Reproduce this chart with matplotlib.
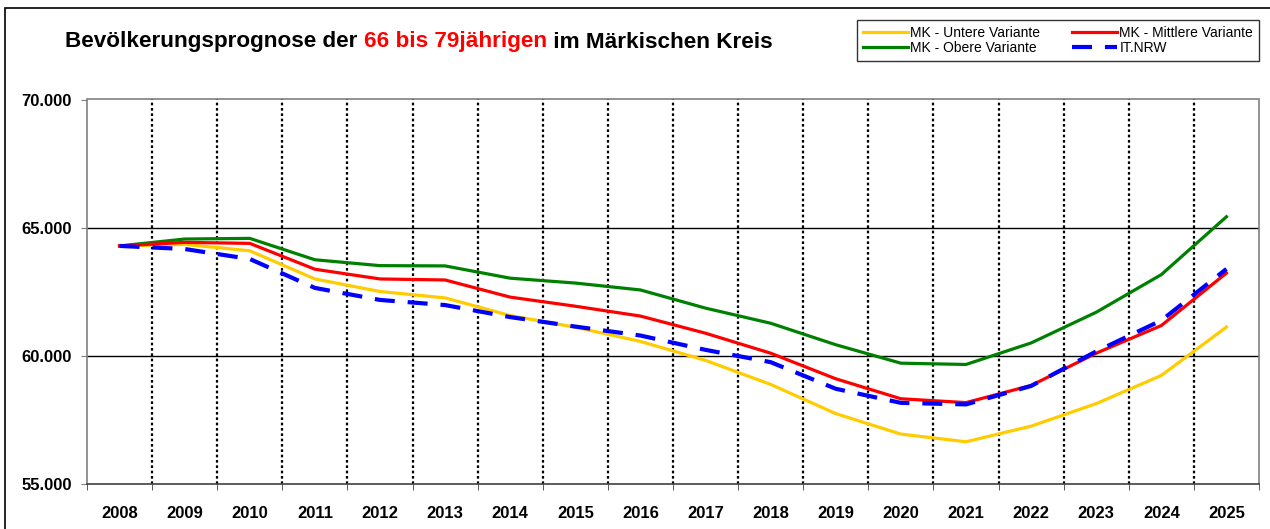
import matplotlib
matplotlib.use("Agg")
import matplotlib.pyplot as plt
from matplotlib.patches import Rectangle
from matplotlib.ticker import FuncFormatter, FixedLocator

plt.rcParams["font.family"] = ["Liberation Sans", "DejaVu Sans"]

years = [str(y) for y in range(2008, 2026)]
untere = [64280, 64340, 64090, 62990, 62500, 62250, 61560, 61105, 60550, 59810,
          58870, 57730, 56930, 56630, 57240, 58120, 59220, 61110]
mittlere = [64280, 64420, 64380, 63370, 62990, 62950, 62280, 61925, 61540, 60870,
            60090, 59090, 58310, 58160, 58830, 60090, 61170, 63220]
obere = [64280, 64550, 64575, 63740, 63510, 63500, 63020, 62830, 62560, 61850,
         61260, 60420, 59700, 59650, 60490, 61690, 63160, 65420]
itnrw = [64280, 64160, 63770, 62640, 62170, 61970, 61500, 61130, 60780, 60220,
         59740, 58700, 58150, 58090, 58810, 60160, 61370, 63380]
y_ticks = [55000, 60000, 65000, 70000]

W, H = 1270, 529
fig = plt.figure(figsize=(W / 100, H / 100), dpi=100)
ax = fig.add_axes([87 / W, 1 - 483.5 / H, (1259 - 87) / W, (483.5 - 99.5) / H])

x = list(range(len(years)))
ax.plot(x, untere, color="#FFCC00", lw=2.3, label="MK - Untere Variante", zorder=3)
ax.plot(x, obere, color="#008000", lw=2.3, label="MK - Obere Variante", zorder=3)
ax.plot(x, mittlere, color="#FF0000", lw=2.3, label="MK - Mittlere Variante", zorder=4)
ax.plot(x, itnrw, color="#0000FF", lw=3, ls=(0, (4.8, 3.1)), label="IT.NRW", zorder=5)

ax.set_xlim(-0.5, len(years) - 0.5)
ax.set_ylim(55000, 70000)

# grid: horizontal solid, vertical dotted between categories
for v in y_ticks[1:-1]:
    ax.axhline(v, color="black", lw=1, zorder=1)
for i in range(len(years) - 1):
    ax.axvline(i + 0.5, color="black", lw=1.6, ls=(0, (1.2, 1.2)), zorder=1)

ax.set_xticks(x)
ax.set_xticklabels(years, fontsize=12, fontweight="bold")
ax.xaxis.set_minor_locator(FixedLocator([i - 0.5 for i in range(len(years) + 1)]))
ax.tick_params(axis="x", which="major", length=0, pad=16)
ax.tick_params(axis="x", which="minor", length=4, direction="out", color="#404040")

ax.set_yticks(y_ticks)
ax.yaxis.set_major_formatter(FuncFormatter(lambda v, p: f"{v:,.0f}".replace(",", ".")))
ax.tick_params(axis="y", length=4, color="#808080", pad=7)
for lab in ax.get_yticklabels():
    lab.set_fontsize(12)
    lab.set_fontweight("bold")

ax.spines["left"].set_color("#808080")
ax.spines["top"].set_color("#808080")
ax.spines["right"].set_color("#808080")
ax.spines["right"].set_linestyle((0, (2, 1)))
ax.spines["bottom"].set_color("#404040")
for s in ax.spines.values():
    s.set_linewidth(1.2)

# outer chart border
fig.patches.append(Rectangle((5 / W, -0.01), 1.1, 1 - 8 / H + 0.01, transform=fig.transFigure,
                             fill=False, edgecolor="black", lw=1.2, clip_on=False))

# title with coloured middle part
renderer = fig.canvas.get_renderer()
parts = [("Bevölkerungsprognose der ", "black"), ("66 bis 79jährigen", "#FF0000"),
         (" im Märkischen Kreis", "black")]
tx = 65
for txt, col in parts:
    t = fig.text(tx / W, 1 - 42 / H, txt, color=col, fontsize=16.2, fontweight="bold",
                 va="center", ha="left")
    bb = t.get_window_extent(renderer=renderer)
    tx += bb.width

leg = fig.legend(loc="upper left", ncol=2, mode="expand",
                 bbox_to_anchor=(857 / W, 1 - 61 / H, 402 / W, 41 / H),
                 fontsize=10, frameon=True, fancybox=False, handlelength=3.25,
                 handletextpad=0.15, borderaxespad=0, labelspacing=0.1,
                 borderpad=0.42, columnspacing=1.0)
leg.get_frame().set_edgecolor("black")
leg.get_frame().set_linewidth(1)

fig.savefig("out.png", dpi=100)
